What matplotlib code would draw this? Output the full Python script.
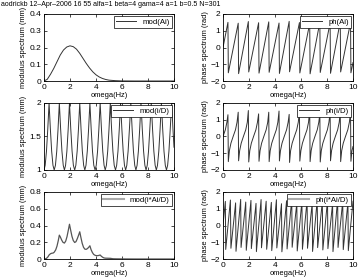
import matplotlib
matplotlib.use("Agg")
import matplotlib.pyplot as plt

plt.rcParams['font.family'] = ['Liberation Sans', 'DejaVu Sans']

title_text = "aodrickb 12\u2013Apr\u20132006 16 55 alfa=1 beta=4 gama=4 a=1 b=0.5 N=301"

# --- mod(Ai) ---
ai_x = [0, 0.25, 0.5, 0.75, 1.0, 1.25, 1.5, 1.75, 2.0, 2.25, 2.5, 2.75, 3.0,
        3.25, 3.5, 3.75, 4.0, 4.25, 4.5, 4.75, 5.0, 5.5, 6.0, 7.0, 10.0]
ai_mod = [0, 0.01, 0.04, 0.075, 0.115, 0.155, 0.185, 0.203, 0.21, 0.205, 0.19,
          0.165, 0.135, 0.105, 0.078, 0.055, 0.037, 0.024, 0.015, 0.009, 0.005,
          0.002, 0.0005, 0, 0]

# --- ph(Ai): sawtooth vertices ---
ph_ai_x = [0, 0.38, 0.41, 1.17, 1.20, 1.95, 1.98, 2.74, 2.77, 3.52, 3.55, 4.31, 4.34,
           5.09, 5.12, 5.88, 5.91, 6.67, 6.70, 7.45, 7.48, 8.24, 8.27, 9.02, 9.05,
           9.81, 9.84, 10.0]
ph_ai = [0, 1.50, -1.51, 1.45, -1.56, 1.55, -1.46, 1.48, -1.53, 1.53, -1.48, 1.46, -1.55,
         1.56, -1.45, 1.49, -1.52, 1.44, -1.57, 1.52, -1.49, 1.47, -1.54, 1.55, -1.46,
         1.50, -1.51, -0.90]

# --- mod(i/D) ---
id_x = [0.00, 0.09, 0.19, 0.29, 0.39, 0.49, 0.59, 0.69,
        0.785, 0.88, 0.98, 1.08, 1.18, 1.28, 1.38, 1.48,
        1.57, 1.66, 1.76, 1.86, 1.96, 2.06, 2.16, 2.26,
        2.36, 2.45, 2.55, 2.65, 2.75, 2.85, 2.95, 3.05,
        3.14, 3.23, 3.33, 3.43, 3.53, 3.63, 3.73, 3.83,
        3.93, 4.02, 4.12, 4.22, 4.32, 4.42, 4.52, 4.62,
        4.71, 4.80, 4.90, 5.00, 5.10, 5.20, 5.30, 5.40,
        5.50, 5.59, 5.69, 5.79, 5.89, 5.99, 6.09, 6.19,
        6.28, 6.37, 6.47, 6.57, 6.68, 6.78, 6.88, 6.98,
        7.07, 7.16, 7.26, 7.36, 7.46, 7.56, 7.66, 7.76,
        7.85, 7.94, 8.04, 8.14, 8.25, 8.35, 8.45, 8.55,
        8.64, 8.73, 8.83, 8.93, 9.03, 9.13, 9.23, 9.33,
        9.42, 9.51, 9.61, 9.71, 9.82, 9.92, 10.0]
id_mod = [1.00, 1.07, 1.28, 1.61, 2.00, 1.61, 1.28, 1.07,
          1.00, 1.07, 1.28, 1.61, 2.00, 1.61, 1.28, 1.07,
          1.00, 1.07, 1.28, 1.61, 2.00, 1.61, 1.28, 1.07,
          1.00, 1.07, 1.28, 1.61, 2.00, 1.61, 1.28, 1.07,
          1.00, 1.07, 1.28, 1.61, 2.00, 1.61, 1.28, 1.07,
          1.00, 1.07, 1.28, 1.61, 2.00, 1.61, 1.28, 1.07,
          1.00, 1.07, 1.28, 1.61, 2.00, 1.61, 1.28, 1.07,
          1.00, 1.07, 1.28, 1.61, 2.00, 1.61, 1.28, 1.07,
          1.00, 1.07, 1.28, 1.61, 2.00, 1.61, 1.28, 1.07,
          1.00, 1.07, 1.28, 1.61, 2.00, 1.61, 1.28, 1.07,
          1.00, 1.07, 1.28, 1.61, 2.00, 1.61, 1.28, 1.07,
          1.00, 1.07, 1.28, 1.61, 2.00, 1.61, 1.28, 1.07,
          1.00, 1.07, 1.28, 1.61, 2.00, 1.61, 1.34]

# --- ph(i/D): S-shaped rises between drops ---
ph_id_x = [0, 0.18, 0.30, 0.38,
           0.41, 0.49, 0.61, 0.78, 0.96, 1.08, 1.17,
           1.20, 1.28, 1.40, 1.57, 1.75, 1.87, 1.95,
           1.98, 2.06, 2.18, 2.35, 2.53, 2.65, 2.74,
           2.77, 2.85, 2.97, 3.14, 3.32, 3.44, 3.52,
           3.55, 3.63, 3.75, 3.92, 4.10, 4.22, 4.31,
           4.34, 4.42, 4.54, 4.71, 4.89, 5.01, 5.09,
           5.12, 5.20, 5.32, 5.49, 5.67, 5.79, 5.88,
           5.91, 5.99, 6.11, 6.28, 6.46, 6.58, 6.67,
           6.70, 6.78, 6.90, 7.07, 7.25, 7.37, 7.45,
           7.48, 7.56, 7.68, 7.85, 8.03, 8.15, 8.24,
           8.27, 8.35, 8.47, 8.64, 8.82, 8.94, 9.02,
           9.05, 9.13, 9.25, 9.42, 9.60, 9.72, 9.81,
           9.84, 9.92, 10.0]
ph_id = [0, 0.40, 0.85, 1.30,
         -1.50, -0.85, -0.40, 0.0, 0.40, 0.85, 1.45,
         -1.45, -0.85, -0.40, 0.0, 0.40, 0.85, 1.55,
         -1.52, -0.85, -0.40, 0.0, 0.40, 0.85, 1.35,
         -1.48, -0.85, -0.40, 0.0, 0.40, 0.85, 1.45,
         -1.50, -0.85, -0.40, 0.0, 0.40, 0.85, 1.52,
         -1.46, -0.85, -0.40, 0.0, 0.40, 0.85, 1.32,
         -1.55, -0.85, -0.40, 0.0, 0.40, 0.85, 1.48,
         -1.47, -0.85, -0.40, 0.0, 0.40, 0.85, 1.55,
         -1.50, -0.85, -0.40, 0.0, 0.40, 0.85, 1.35,
         -1.52, -0.85, -0.40, 0.0, 0.40, 0.85, 1.45,
         -1.45, -0.85, -0.40, 0.0, 0.40, 0.85, 1.50,
         -1.50, -0.85, -0.40, 0.0, 0.40, 0.85, 1.40,
         -1.48, -0.85, -0.60]

# --- mod(i*Ai/D) ---
aid_x = [0, 0.1, 0.2, 0.3, 0.39, 0.5, 0.6, 0.7, 0.78, 0.9, 1.0, 1.1, 1.18, 1.26,
         1.36, 1.46, 1.57, 1.67, 1.77, 1.87, 1.96, 2.05, 2.15, 2.25, 2.36, 2.46,
         2.56, 2.66, 2.75, 2.84, 2.94, 3.04, 3.14, 3.24, 3.34, 3.44, 3.53, 3.62,
         3.72, 3.82, 3.93, 4.03, 4.13, 4.23, 4.32, 4.41, 4.51, 4.61, 4.71, 4.9,
         5.11, 5.3, 5.5, 6.0, 7.0, 10.0]
aid_mod = [0, 0.002, 0.009, 0.025, 0.048, 0.063, 0.069, 0.071, 0.08, 0.109, 0.154,
           0.221, 0.285, 0.262, 0.226, 0.199, 0.19, 0.214, 0.267, 0.343, 0.415,
           0.345, 0.271, 0.221, 0.197, 0.207, 0.242, 0.284, 0.325, 0.256, 0.186,
           0.14, 0.118, 0.115, 0.124, 0.14, 0.158, 0.112, 0.078, 0.055, 0.044,
           0.04, 0.04, 0.043, 0.048, 0.033, 0.021, 0.013, 0.01, 0.009, 0.008,
           0.003, 0.002, 0.001, 0, 0]

# --- ph(i*Ai/D): sawtooth vertices, twice the rate ---
aid_peak_x = [0.18, 0.57, 0.97, 1.36, 1.75, 2.15, 2.54, 2.93, 3.32, 3.72, 4.11, 4.50,
              4.89, 5.29, 5.68, 6.07, 6.47, 6.86, 7.25, 7.64, 8.04, 8.43, 8.82, 9.21, 9.61]
aid_peak = [1.44, 1.52, 1.35, 1.56, 1.40, 1.50, 1.32, 1.55, 1.45, 1.38, 1.54, 1.30,
            1.48, 1.57, 1.36, 1.46, 1.52, 1.33, 1.55, 1.42, 1.50, 1.31, 1.56, 1.44, 1.38]
aid_trough_x = [0.21, 0.61, 1.00, 1.39, 1.79, 2.18, 2.57, 2.96, 3.36, 3.75, 4.14, 4.53,
                4.93, 5.32, 5.71, 6.11, 6.50, 6.89, 7.28, 7.68, 8.07, 8.46, 8.85, 9.25, 9.64]
aid_trough = [-1.43, -1.36, -1.54, -1.31, -1.48, -1.38, -1.56, -1.33, -1.42, -1.50,
              -1.34, -1.57, -1.40, -1.30, -1.52, -1.42, -1.36, -1.55, -1.32, -1.46,
              -1.38, -1.56, -1.31, -1.44, -1.50]
aid_end_x = 10.0
aid_end = 1.45

ph_aid_x = [0]
ph_aid = [0]
for px, py, tx, ty in zip(aid_peak_x, aid_peak, aid_trough_x, aid_trough):
    ph_aid_x += [px, tx]
    ph_aid += [py, ty]
ph_aid_x.append(aid_end_x)
ph_aid.append(aid_end)

fig = plt.figure(figsize=(3.61, 2.78), dpi=100)
fig.text(0.004, 0.995, title_text, fontsize=5.05, va='top', ha='left')

W = 361.0
H = 278.0
lefts = [44, 223]
tops = [14, 103, 192]
aw, ah = 130, 67

phase_ticks = ['\u22122', '\u22121', '0', '1', '2']
panels = [
    (ai_x, ai_mod, 'mod(Ai)', 'modulus spectrum (mm)', (0, 0.4), [0, 0.1, 0.2, 0.3, 0.4], ['0', '0.1', '0.2', '0.3', '0.4'], '#333333', 0.7),
    (ph_ai_x, ph_ai, 'ph(Ai)', 'phase spectrum (rad)', (-2, 2), [-2, -1, 0, 1, 2], phase_ticks, '#333333', 0.7),
    (id_x, id_mod, 'mod(i/D)', 'modulus spectrum (mm)', (1, 2), [1, 1.5, 2], ['1', '1.5', '2'], '#333333', 0.7),
    (ph_id_x, ph_id, 'ph(i/D)', 'phase spectrum (rad)', (-2, 2), [-2, -1, 0, 1, 2], phase_ticks, '#333333', 0.7),
    (aid_x, aid_mod, 'mod(i*Ai/D)', 'modulus spectrum (mm)', (0, 0.8), [0, 0.2, 0.4, 0.6, 0.8], ['0', '0.2', '0.4', '0.6', '0.8'], '#555555', 0.9),
    (ph_aid_x, ph_aid, 'ph(i*Ai/D)', 'phase spectrum (rad)', (-2, 2), [-2, -1, 0, 1, 2], phase_ticks, '#333333', 0.7),
]

for i, (x, y, lab, ylab, ylim, yt, ytl, col, lw) in enumerate(panels):
    row, colm = divmod(i, 2)
    ax = fig.add_axes([lefts[colm] / W, 1 - (tops[row] + ah) / H, aw / W, ah / H])
    ax.plot(x, y, color=col, lw=lw, label=lab)
    ax.set_xlim(0, 10)
    ax.set_ylim(*ylim)
    ax.set_xticks([0, 2, 4, 6, 8, 10])
    ax.set_yticks(yt)
    ax.set_yticklabels(ytl)
    ax.tick_params(direction='in', top=True, right=True, labelsize=6, length=2.5,
                   width=0.5, pad=2)
    for s in ax.spines.values():
        s.set_linewidth(0.6)
    ax.set_xlabel('omega(Hz)', fontsize=5.4, labelpad=1)
    ax.set_ylabel(ylab, fontsize=5.4, labelpad=1.5)
    leg = ax.legend(loc='upper right', fontsize=5.6, handlelength=2.6, handletextpad=0.8,
                    borderpad=0.25, borderaxespad=0.3, fancybox=False, framealpha=1)
    leg.get_frame().set_edgecolor('black')
    leg.get_frame().set_linewidth(0.5)
    if row == 2:
        leg.get_lines()[0].set_color('#aaaaaa')
        leg.get_lines()[0].set_linewidth(1.5)

fig.savefig('out.png', dpi=100)
